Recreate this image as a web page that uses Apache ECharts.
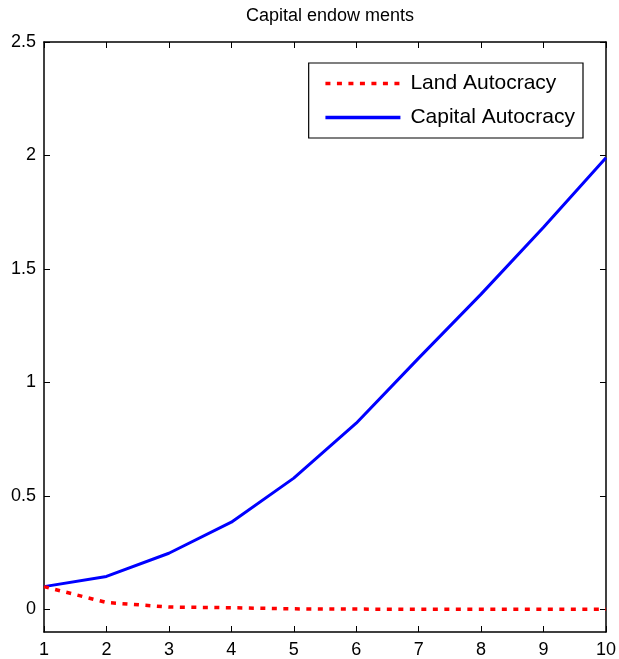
<!DOCTYPE html>
<html><head><meta charset="utf-8">
<script src="https://cdn.jsdelivr.net/npm/echarts@6/dist/echarts.min.js"></script>
<style>html,body{margin:0;padding:0;background:#fff}#c{width:619px;height:659px}</style>
</head><body><div id="c"></div>
<script>
var xValues = [1,2,3,4,5,6,7,8,9,10];
var landAutocracy = [0.1,0.03,0.01,0.007,0.002,0.001,0,0,0,0];
var capitalAutocracy = [0.1,0.145,0.247,0.384,0.578,0.82,1.107,1.389,1.684,1.99];
var yTicks = [0,0.5,1,1.5,2,2.5];
var xTicks = [1,2,3,4,5,6,7,8,9,10];
var titleText = 'Capital endow ments';
var seriesNames = ['Land Autocracy','Capital Autocracy'];

var font = 'Liberation Sans, Arial, sans-serif';
var chart = echarts.init(document.getElementById('c'));
function pairs(v){return xValues.map(function(x,i){return [x,v[i]];});}
var tickStyle = {show:true,inside:true,length:6,lineStyle:{color:'#000',width:1}};
var lineAx = {show:true,onZero:false,lineStyle:{color:'#000',width:1.5}};
chart.setOption({
  animation:false,
  backgroundColor:'#fff',
  title:{text:titleText,left:325,textAlign:'center',top:2,textStyle:{fontFamily:font,fontSize:18,fontWeight:'normal',color:'#000'}},
  grid:{left:44,right:13,top:42,bottom:26,containLabel:false},
  legend:{
    data:seriesNames, orient:'vertical', right:36, top:63,
    borderColor:'#000', borderWidth:1.2, padding:[10,8,10,15], itemGap:13,
    itemWidth:75, itemHeight:21,
    itemStyle:{opacity:0},
    lineStyle:{width:3.5},
    textStyle:{fontFamily:font,fontSize:21,color:'#000',padding:[0,0,0,5]}
  },
  xAxis:[
    {type:'value',min:1,max:10,interval:1,position:'bottom',axisLine:lineAx,axisTick:tickStyle,splitLine:{show:false},
     axisLabel:{color:'#000',fontFamily:font,fontSize:18,margin:9}},
    {type:'value',min:1,max:10,interval:1,position:'top',axisLine:lineAx,axisTick:tickStyle,splitLine:{show:false},axisLabel:{show:false}}
  ],
  yAxis:[
    {type:'value',min:-0.1,max:2.5,position:'left',axisLine:lineAx,splitLine:{show:false},
     axisTick:Object.assign({customValues:yTicks},tickStyle),
     axisLabel:{customValues:yTicks,color:'#000',fontFamily:font,fontSize:18,margin:8}},
    {type:'value',min:-0.1,max:2.5,position:'right',axisLine:lineAx,splitLine:{show:false},
     axisTick:Object.assign({customValues:yTicks},tickStyle),axisLabel:{show:false}}
  ],
  series:[
    {name:seriesNames[0],type:'line',data:pairs(landAutocracy),symbol:'none',z:3,
     lineStyle:{color:'#ff0000',width:3.5,type:[5,6.5]},itemStyle:{color:'#ff0000'}},
    {name:seriesNames[1],type:'line',data:pairs(capitalAutocracy),symbol:'none',z:2,
     lineStyle:{color:'#0000ff',width:3,type:'solid'},itemStyle:{color:'#0000ff'}}
  ]
});
</script></body></html>
